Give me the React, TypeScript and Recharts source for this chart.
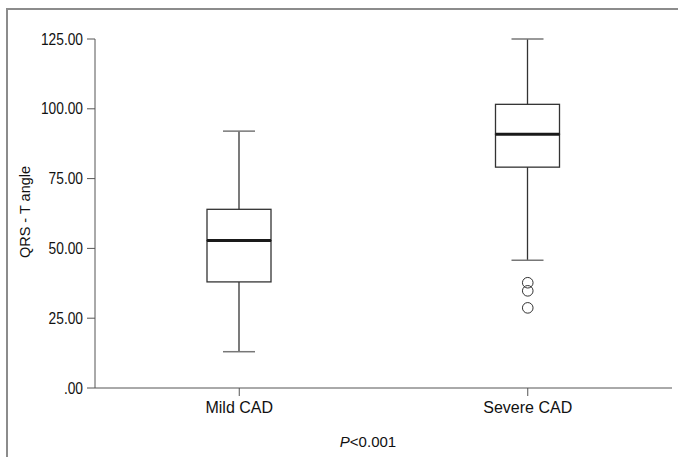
import { Bar, ComposedChart, Label, Line, XAxis, YAxis } from "recharts"

const categories = ["Mild CAD", "Severe CAD"]
const lowerWhisker = [13, 45.8]
const firstQuartile = [38, 79.1]
const medians = [52.8, 90.9]
const thirdQuartile = [64, 101.6]
const upperWhisker = [92, 125]
// outliers, only the severe group has them
const severeOutliers = [37.7, 34.8, 28.7]
const yTicks = [0, 25, 50, 75, 100, 125]

const FONT = "'Liberation Sans', Arial, sans-serif"
const TEXT = "#111"

const data = categories.map((name, i) => {
  const row: any = {
    name,
    base: lowerWhisker[i],
    lowWhisker: firstQuartile[i] - lowerWhisker[i],
    lowBox: medians[i] - firstQuartile[i],
    highBox: thirdQuartile[i] - medians[i],
    highWhisker: upperWhisker[i] - thirdQuartile[i],
  }
  severeOutliers.forEach((v, j) => {
    row[`out${j}`] = name === "Severe CAD" ? v : null
  })
  return row
})

const LowWhisker = (props: any) => {
  const { x, y, width, height } = props
  const cx = x + width / 2
  return (
    <g>
      <line x1={cx} x2={cx} y1={y} y2={y + height} stroke="#333" strokeWidth={1.3} />
      <line x1={cx - width / 4} x2={cx + width / 4} y1={y + height} y2={y + height} stroke="#777" strokeWidth={1.5} />
    </g>
  )
}

const HighWhisker = (props: any) => {
  const { x, y, width, height } = props
  const cx = x + width / 2
  return (
    <g>
      <line x1={cx} x2={cx} y1={y} y2={y + height} stroke="#333" strokeWidth={1.3} />
      <line x1={cx - width / 4} x2={cx + width / 4} y1={y} y2={y} stroke="#777" strokeWidth={1.5} />
    </g>
  )
}

const LowBox = (props: any) => {
  const { x, y, width, height } = props
  return <rect x={x} y={y} width={width} height={height} fill="none" stroke="#333" strokeWidth={1.3} />
}

const HighBox = (props: any) => {
  const { x, y, width, height } = props
  return (
    <g>
      <rect x={x} y={y} width={width} height={height} fill="none" stroke="#333" strokeWidth={1.3} />
      <line x1={x} x2={x + width} y1={y + height} y2={y + height} stroke="#1a1a1a" strokeWidth={3} />
    </g>
  )
}

const OutlierDot = (props: any) => {
  const { cx, cy, index } = props
  if (cy == null || cx == null) return <g key={index} />
  return <circle key={index} cx={cx} cy={cy} r={5.3} fill="none" stroke="#333" strokeWidth={1} />
}

// narrow digits like the original's condensed face
const YTick = (props: any) => {
  const { x, y, payload } = props
  const v = payload.value as number
  const label = v === 0 ? ".00" : v.toFixed(2)
  return (
    <g transform={`translate(${x},${y})`}>
      <text transform="scale(0.86,1)" textAnchor="end" dy="0.355em" fill={TEXT} fontSize={16} fontFamily={FONT}>
        {label}
      </text>
    </g>
  )
}

export default function App() {
  return (
    <div style={{ position: "absolute", left: 0, top: 0, width: 678, height: 457, overflow: "hidden", background: "#fff" }}>
      <div
        style={{
          position: "absolute",
          left: 6,
          top: 8,
          width: 800,
          height: 600,
          borderLeft: "2px solid #8c8c8c",
          borderTop: "2px solid #8c8c8c",
        }}
      />
      <div style={{ position: "absolute", left: 0, top: 0 }}>
        <ComposedChart width={678} height={457} data={data} margin={{ top: 39, right: 6, left: 0, bottom: 0 }}>
          <XAxis
            dataKey="name"
            height={69}
            stroke="#555"
            tickSize={8}
            tickMargin={6}
            tick={{ fill: TEXT, fontSize: 16, fontFamily: FONT }}
          >
            <Label
              content={(p: any) => {
                const vb = p.viewBox
                return (
                  <text x={368} y={vb.y + 59} textAnchor="middle" fill={TEXT} fontSize={15} fontFamily={FONT}>
                    <tspan fontStyle="italic">P</tspan>
                    <tspan>{"<0.001"}</tspan>
                  </text>
                )
              }}
            />
          </XAxis>
          <XAxis xAxisId="top" dataKey="name" orientation="top" height={0} tick={false} tickLine={false} stroke="#555" />
          <YAxis
            domain={[0, 125]}
            ticks={yTicks}
            width={95}
            stroke="#555"
            tickSize={8}
            tickMargin={4}
            interval={0}
            tick={<YTick />}
          >
            <Label
              content={() => (
                <text
                  x={25}
                  y={212}
                  transform="rotate(-90 25 212)"
                  textAnchor="middle"
                  dominantBaseline="central"
                  fill={TEXT}
                  fontSize={14.5}
                  fontFamily={FONT}
                >
                  QRS - T angle
                </text>
              )}
            />
          </YAxis>
          <YAxis yAxisId="right" orientation="right" width={0} domain={[0, 125]} tick={false} tickLine={false} stroke="#555" />
          <Bar dataKey="base" stackId="box" fill="none" barSize={64} isAnimationActive={false} />
          <Bar dataKey="lowWhisker" stackId="box" barSize={64} shape={<LowWhisker />} isAnimationActive={false} />
          <Bar dataKey="lowBox" stackId="box" barSize={64} shape={<LowBox />} isAnimationActive={false} />
          <Bar dataKey="highBox" stackId="box" barSize={64} shape={<HighBox />} isAnimationActive={false} />
          <Bar dataKey="highWhisker" stackId="box" barSize={64} shape={<HighWhisker />} isAnimationActive={false} />
          {severeOutliers.map((_, j) => (
            <Line
              key={j}
              dataKey={`out${j}`}
              stroke="none"
              dot={<OutlierDot />}
              activeDot={false}
              legendType="none"
              isAnimationActive={false}
            />
          ))}
        </ComposedChart>
      </div>
    </div>
  )
}
